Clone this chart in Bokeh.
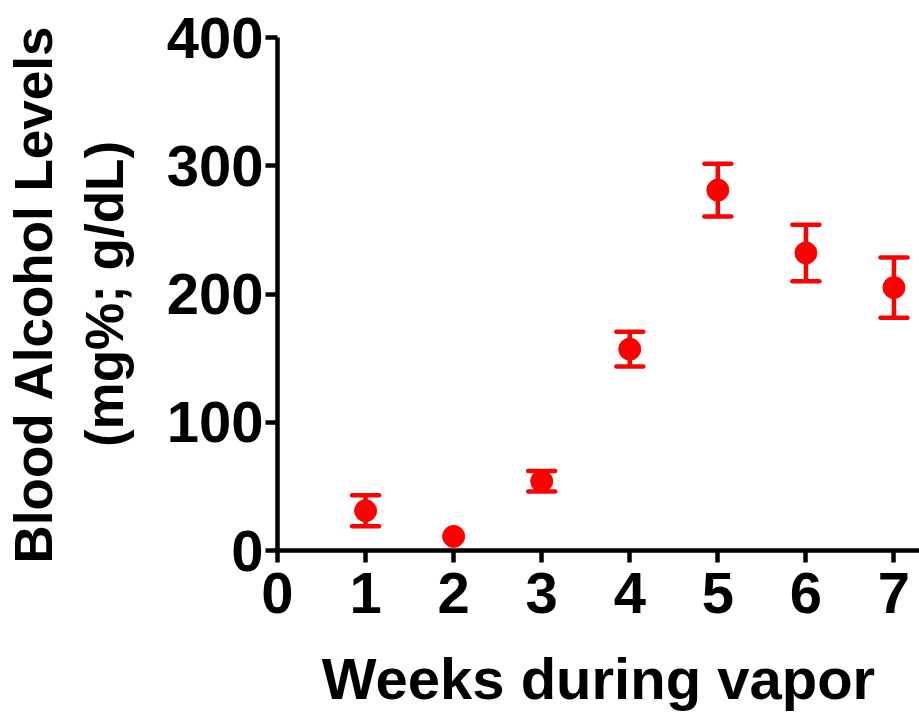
from bokeh.plotting import figure
from bokeh.models import ColumnDataSource, Range1d, Whisker, TeeHead, FixedTicker
from bokeh.embed import file_html
from bokeh.resources import INLINE

weeks = [1, 2, 3, 4, 5, 6, 7]
bal = [31, 11, 54, 157, 281, 232, 205]
sem = [12, 0, 8, 13.5, 20.5, 22, 23.5]

x_ticks = [0, 1, 2, 3, 4, 5, 6, 7]
y_ticks = [0, 100, 200, 300, 400]

RED = "#ff0000"
FONT = "Liberation Sans"

p = figure(width=919, height=717, output_backend="svg", toolbar_location=None,
           x_range=Range1d(0, 7.29), y_range=Range1d(0, 400),
           min_border_left=275, min_border_bottom=167, min_border_top=37, min_border_right=0)
p.grid.visible = False
p.outline_line_color = None
p.background_fill_color = "white"

src = ColumnDataSource(dict(x=weeks, y=bal))
wx = [w for w, s in zip(weeks, sem) if s > 0]
wb = [b for b, s in zip(bal, sem) if s > 0]
ws = [s for s in sem if s > 0]
wsrc = ColumnDataSource(dict(x=wx, lo=[b - s for b, s in zip(wb, ws)], hi=[b + s for b, s in zip(wb, ws)]))

wh = Whisker(source=wsrc, base="x", lower="lo", upper="hi",
             line_color=RED, line_width=4.5,
             lower_head=TeeHead(size=27, line_color=RED, line_width=4.5, line_cap="round"),
             upper_head=TeeHead(size=27, line_color=RED, line_width=4.5, line_cap="round"))
p.add_layout(wh)
p.scatter("x", "y", source=src, size=22, color=RED, marker="circle")

for ax in (p.xaxis[0], p.yaxis[0]):
    ax.axis_line_width = 4.5
    ax.axis_line_color = "black"
    ax.major_tick_line_width = 4.5
    ax.major_tick_line_color = "black"
    ax.major_tick_out = 12
    ax.major_tick_in = 0
    ax.minor_tick_line_color = None
    ax.major_label_text_font = FONT
    ax.major_label_text_font_style = "bold"
    ax.major_label_text_font_size = "58px"
    ax.major_label_text_color = "black"
    ax.axis_label_text_font = FONT
    ax.axis_label_text_font_style = "bold"
    ax.axis_label_text_color = "black"

p.xaxis.ticker = FixedTicker(ticks=x_ticks)
p.yaxis.ticker = FixedTicker(ticks=y_ticks)
p.xaxis.major_label_standoff = 10
p.yaxis.major_label_standoff = 2
p.xaxis.axis_label = "Weeks during vapor"
p.xaxis.axis_label_text_font_size = "58px"
p.xaxis.axis_label_standoff = 30
p.yaxis.axis_label = "Blood Alcohol Levels\n(mg%; g/dL)"
p.yaxis.axis_label_text_font_size = "53px"
p.yaxis.axis_label_standoff = 30

open("out.html", "w").write(file_html(p, INLINE))
